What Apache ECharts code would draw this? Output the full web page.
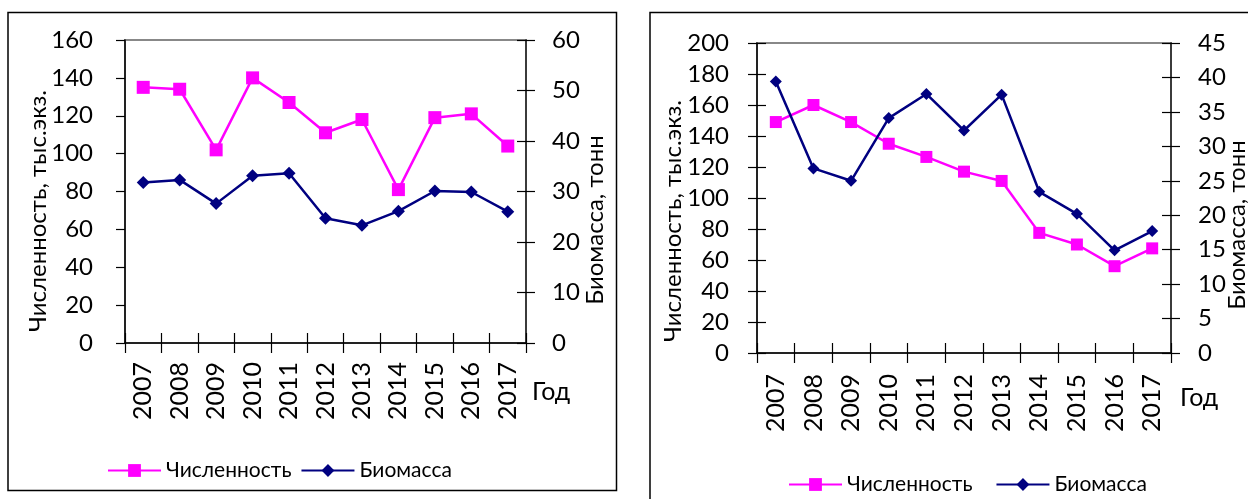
<!DOCTYPE html>
<html>
<head>
<meta charset="utf-8">
<script src="https://cdn.jsdelivr.net/npm/echarts@6/dist/echarts.min.js"></script>
<style>
html,body{margin:0;padding:0;background:#fff;}
#c{width:1248px;height:499px;}
</style>
</head>
<body>
<div id="c"></div>
<script>
// ---- data ----
const years = ['2007','2008','2009','2010','2011','2012','2013','2014','2015','2016','2017'];
const leftCount = [135, 134, 102, 140, 127, 111, 118, 81, 119, 121, 104];
const leftBio = [31.8, 32.3, 27.6, 33.1, 33.6, 24.7, 23.3, 26.1, 30.1, 29.9, 26.0];
const rightCount = [149, 160, 149, 135, 126.5, 117, 111, 77.5, 70, 56, 67.5];
const rightBio = [39.4, 26.8, 25.0, 34.1, 37.6, 32.3, 37.5, 23.4, 20.2, 14.9, 17.7];
// axis ranges [min, max, interval]
const leftCountAxis = [0, 160, 20];
const leftBioAxis = [0, 60, 10];
const rightCountAxis = [0, 200, 20];
const rightBioAxis = [0, 45, 5];
const seriesNames = ['Численность', 'Биомасса'];
const xName = 'Год';
const yNameCount = 'Численность, тыс.экз.';
const yNameBio = 'Биомасса, тонн';

const FONT = 'Lato';
const PINK = '#FF00FF';
const NAVY = '#000080';

function xAx(grid, inside) {
  return {
    type: 'category', gridIndex: grid, data: years, boundaryGap: true, position: 'bottom',
    axisLine: { show: !inside, lineStyle: { color: '#000', width: 1.5 } },
    axisTick: { show: true, inside: inside, length: 10, lineStyle: { color: '#000', width: 1.2 } },
    axisLabel: { show: !inside, rotate: 90, margin: grid === 0 ? 19 : 21, color: '#000', fontFamily: FONT, fontSize: 25 },
    splitLine: { show: false }
  };
}
function yAx(grid, pos, rng, inside, margin) {
  return {
    type: 'value', gridIndex: grid, position: pos, min: rng[0], max: rng[1], interval: rng[2],
    axisLine: { show: !inside, lineStyle: { color: pos === 'left' ? '#000' : '#222', width: 1.5 } },
    axisTick: { show: true, inside: inside, length: 9, lineStyle: { color: '#000', width: 1.2 } },
    axisLabel: { show: !inside, margin: margin, color: '#000', fontFamily: FONT, fontSize: 24 },
    splitLine: { show: false }
  };
}
function ser(name, xi, yi, data, sym, size, color) {
  return {
    name: name, type: 'line', xAxisIndex: xi, yAxisIndex: yi, data: data,
    symbol: sym, symbolSize: size, showSymbol: true,
    itemStyle: { color: color }, lineStyle: { color: color, width: 2.5 },
    emphasis: { disabled: true }
  };
}
function vText(text, x, y, size) {
  return { type: 'text', x: x, y: y, rotation: Math.PI / 2,
    style: { text: text, fill: '#000', font: size + 'px ' + FONT, textAlign: 'center', textVerticalAlign: 'middle' } };
}
function hText(text, x, y, size) {
  return { type: 'text', x: x, y: y,
    style: { text: text, fill: '#000', font: size + 'px ' + FONT, textAlign: 'left', textVerticalAlign: 'middle' } };
}

const chart = echarts.init(document.getElementById('c'), null, { renderer: 'canvas' });
chart.setOption({
  animation: false,
  backgroundColor: '#fff',
  grid: [
    { left: 125, top: 40, width: 401, height: 303, show: true, borderColor: '#888', borderWidth: 2, backgroundColor: 'transparent' },
    { left: 757, top: 43, width: 414, height: 310, show: true, borderColor: '#888', borderWidth: 2, backgroundColor: 'transparent' }
  ],
  xAxis: [xAx(0, false), xAx(0, true), xAx(1, false), xAx(1, true)],
  yAxis: [
    yAx(0, 'left', leftCountAxis, false, 32),
    yAx(0, 'right', leftBioAxis, false, 26),
    yAx(0, 'right', leftBioAxis, true, 0),
    yAx(1, 'left', rightCountAxis, false, 28),
    yAx(1, 'left', rightCountAxis, true, 0),
    yAx(1, 'right', rightBioAxis, false, 27),
    yAx(1, 'right', rightBioAxis, true, 0)
  ],
  legend: [
    { data: seriesNames, left: 102, top: 455, itemWidth: 53, itemHeight: 16, itemGap: 9,
      textStyle: { fontFamily: FONT, fontSize: 21, color: '#000' }, selectedMode: false },
    { data: seriesNames, left: 783, top: 469, itemWidth: 53, itemHeight: 16, itemGap: 23,
      textStyle: { fontFamily: FONT, fontSize: 21, color: '#000' }, selectedMode: false }
  ],
  series: [
    ser(seriesNames[0], 0, 0, leftCount, 'rect', 13, PINK),
    ser(seriesNames[1], 0, 1, leftBio, 'diamond', 13, NAVY),
    ser(seriesNames[0], 2, 3, rightCount, 'rect', 12, PINK),
    ser(seriesNames[1], 2, 5, rightBio, 'diamond', 12, NAVY)
  ],
  graphic: [
    { type: 'rect', shape: { x: 8, y: 12.5, width: 608.5, height: 478 }, style: { fill: 'none', stroke: '#000', lineWidth: 1.5 } },
    { type: 'rect', shape: { x: 650, y: 12.5, width: 800, height: 800 }, style: { fill: 'none', stroke: '#000', lineWidth: 1.5 } },
    vText(yNameCount, 38, 211, 24),
    vText(yNameBio, 595, 220, 24),
    vText(yNameCount, 673, 221, 24),
    vText(yNameBio, 1237, 225, 24),
    hText(xName, 532, 392, 25),
    hText(xName, 1180, 398, 25)
  ]
});
</script>
</body>
</html>
